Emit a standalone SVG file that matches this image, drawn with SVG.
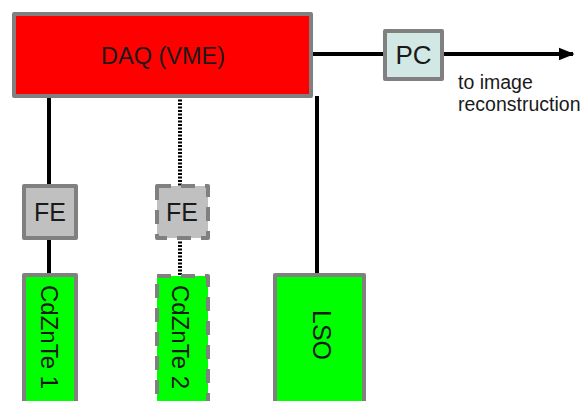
<svg xmlns="http://www.w3.org/2000/svg" width="587" height="401" viewBox="0 0 587 401">
<defs>
<style>
.box{stroke:#808080;stroke-width:4;stroke-linejoin:round}
.dash{stroke-dasharray:14 10}
.lbl{font-family:"Liberation Sans",Arial,sans-serif;fill:#1a1a1a}
.wire{stroke:#000;stroke-width:4;fill:none}
.dot{stroke-dasharray:2 1.5}
</style>
<marker id="arr" viewBox="0 0 10 10" refX="9" refY="5" markerWidth="4" markerHeight="4" orient="auto" markerUnits="strokeWidth">
<path d="M0,1 L10,5 L0,9 z" fill="#000"/>
</marker>
</defs>
<rect width="587" height="401" fill="#fff"/>
<g id="connectors">
<line class="wire" x1="313" y1="54" x2="385" y2="54"/>
<line class="wire" x1="442" y1="54" x2="573" y2="54" marker-end="url(#arr)"/>
<line class="wire" x1="49" y1="96" x2="49" y2="186"/>
<line class="wire" x1="49" y1="238" x2="49" y2="275"/>
<line class="wire dot" x1="180" y1="96" x2="180" y2="186"/>
<line class="wire dot" x1="180" y1="238" x2="180" y2="276"/>
<line class="wire" x1="317" y1="96" x2="317" y2="275"/>
</g>
<g id="daq">
<rect class="box" x="14" y="14" width="297" height="82" fill="#ff0000"/>
<text class="lbl" x="163" y="64" font-size="23.5" text-anchor="middle">DAQ (VME)</text>
</g>
<g id="pc">
<rect class="box" x="385" y="31" width="57" height="48" fill="#d1e8e5"/>
<text class="lbl" x="413.5" y="64" font-size="26" text-anchor="middle">PC</text>
</g>
<g id="output-label">
<text class="lbl" x="458" y="89" font-size="19.5">to image</text>
<text class="lbl" x="458" y="111" font-size="19.5">reconstruction</text>
</g>
<g id="fe1">
<rect class="box" x="24" y="186" width="52" height="52" fill="#c0c0c0"/>
<text class="lbl" x="50" y="221" font-size="25" text-anchor="middle">FE</text>
</g>
<g id="fe2">
<rect class="box dash" x="157" y="186" width="51" height="52" fill="#c0c0c0"/>
<text class="lbl" x="182" y="221" font-size="25" text-anchor="middle">FE</text>
</g>
<g id="cdznte1">
<rect class="box" x="24" y="275" width="52" height="140" fill="#00ff00"/>
<text class="lbl" font-size="24" transform="translate(41,285) rotate(90)">CdZnTe 1</text>
</g>
<g id="cdznte2">
<rect class="box dash" x="157" y="276" width="51" height="140" fill="#00ff00"/>
<text class="lbl" font-size="24" transform="translate(172,285) rotate(90)">CdZnTe 2</text>
</g>
<g id="lso">
<rect class="box" x="275" y="275" width="89" height="140" fill="#00ff00"/>
<text class="lbl" font-size="25" text-anchor="middle" transform="translate(313,335) rotate(90)">LSO</text>
</g>
</svg>
